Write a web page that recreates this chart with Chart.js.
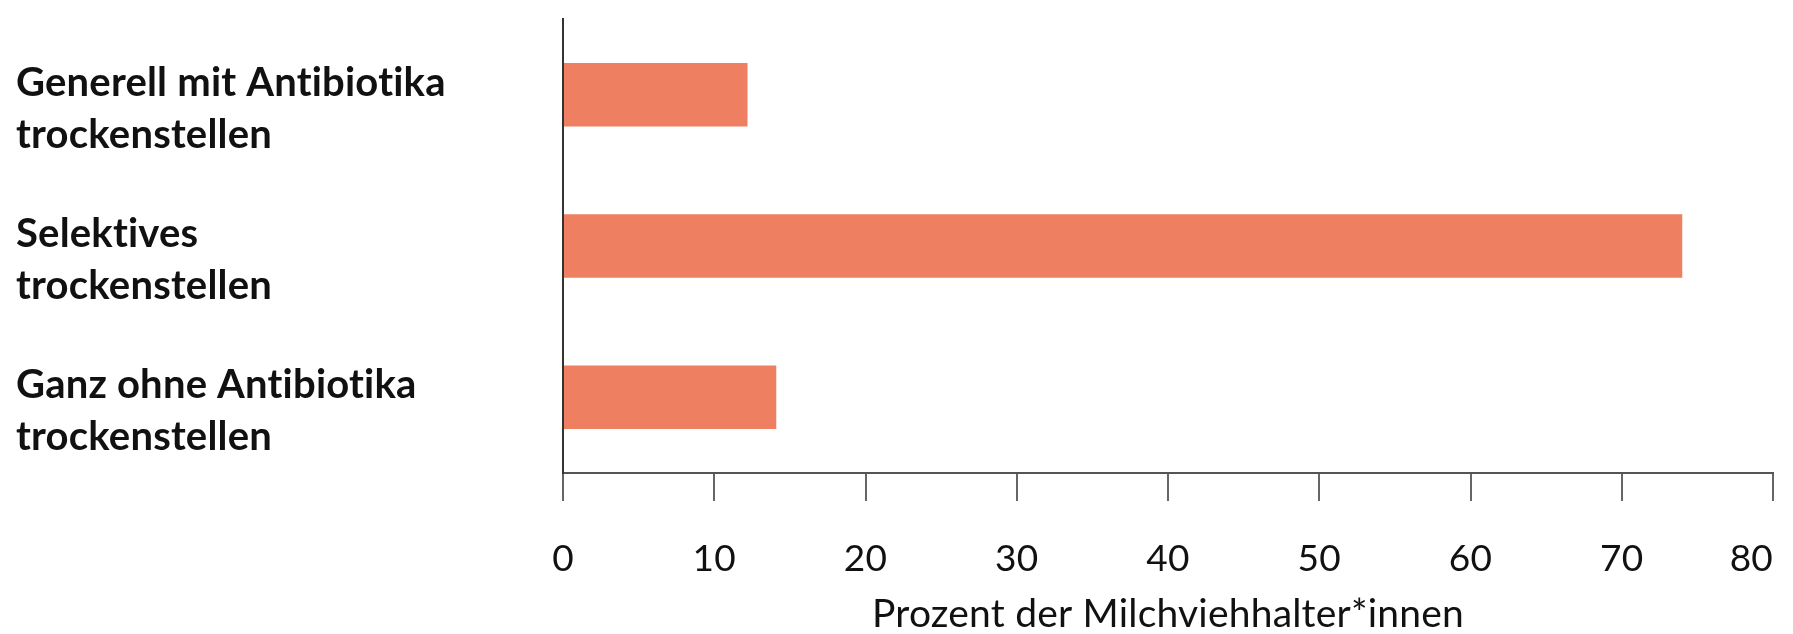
<!DOCTYPE html>
<html lang="de">
<head>
<meta charset="utf-8">
<title>Trockenstellen – Prozent der Milchviehhalter*innen</title>
<script src="https://cdn.jsdelivr.net/npm/chart.js@4/dist/chart.umd.min.js"></script>
<style>
  html, body { margin: 0; padding: 0; background: #ffffff; }
  #wrap { width: 1793px; height: 634px; position: relative; }
</style>
</head>
<body>
<div id="wrap"><canvas id="chart" width="1793" height="634"></canvas></div>
<script>
// Kategorien (je zwei Zeilen) und Anteile in Prozent
const categories = [
  ["Generell mit Antibiotika", "trockenstellen"],
  ["Selektives", "trockenstellen"],
  ["Ganz ohne Antibiotika", "trockenstellen"]
];
const shares = [12.2, 74, 14.1];
const xTicks = [0, 10, 20, 30, 40, 50, 60, 70, 80];
const xTitle = "Prozent der Milchviehhalter*innen";

const barColor = "#ef7f61";
const axisColor = "#555555";
const fontFamily = "Lato, 'Open Sans', sans-serif";

// tiny letter spacing keeps the canvas from forming "ti"/"fi" ligatures
const noLigatures = {
  id: "noLigatures",
  beforeDraw(chart) {
    if ("letterSpacing" in chart.ctx) chart.ctx.letterSpacing = "0.2px";
  }
};

// the last x tick label ends at its tick so it stays inside the canvas
const lastLabelInside = {
  id: "lastLabelInside",
  beforeDraw(chart) {
    const items = chart.scales.x.getLabelItems();
    const last = items[items.length - 1];
    if (last) last.options.textAlign = "right";
  }
};

new Chart(document.getElementById("chart"), {
  type: "bar",
  data: {
    labels: categories,
    datasets: [{
      data: shares,
      backgroundColor: barColor,
      borderWidth: 0,
      barPercentage: 0.42,
      categoryPercentage: 1.0
    }]
  },
  options: {
    indexAxis: "y",
    responsive: false,
    animation: false,
    layout: { padding: { top: 19, left: 16, right: 20, bottom: 0 } },
    plugins: {
      legend: { display: false },
      tooltip: { enabled: false }
    },
    scales: {
      x: {
        min: 0,
        max: 80,
        afterBuildTicks: (scale) => { scale.ticks = xTicks.map(v => ({ value: v })); },
        afterFit: (scale) => {
          scale.height = 161;
          scale.paddingLeft = 0;
          scale.paddingRight = 0;
        },
        grid: {
          display: true,
          drawOnChartArea: false,
          drawTicks: true,
          tickLength: 28,
          color: "#666666",
          lineWidth: 2
        },
        border: { display: true, color: axisColor, width: 2 },
        ticks: {
          color: "#111111",
          padding: 36,
          maxRotation: 0,
          font: { family: fontFamily, size: 37, lineHeight: 1.2 }
        },
        title: {
          display: true,
          text: xTitle,
          color: "#111111",
          padding: { top: 0, bottom: 0 },
          font: { family: fontFamily, size: 39, lineHeight: 1.0 }
        }
      },
      y: {
        z: 1,
        afterFit: (scale) => {
          scale.width = 547;
          scale.paddingTop = 0;
          scale.paddingBottom = 0;
        },
        grid: { display: false, drawTicks: false },
        border: { display: true, color: "#333333", width: 2 },
        ticks: {
          color: "#111111",
          crossAlign: "far",
          labelOffset: 14,
          padding: 0,
          font: { family: fontFamily, size: 40, weight: "bold", lineHeight: "52px" }
        }
      }
    }
  },
  plugins: [noLigatures, lastLabelInside]
});
</script>
</body>
</html>
